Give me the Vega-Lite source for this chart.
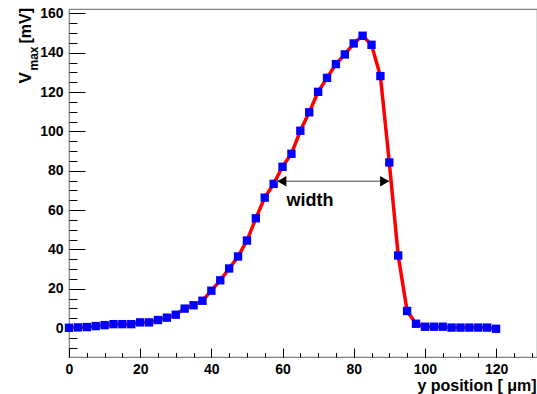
{
  "$schema": "https://vega.github.io/schema/vega-lite/v6.json",
  "width": 468,
  "height": 348,
  "autosize": {"type": "none"},
  "padding": {"left": 69, "top": 9, "right": 0, "bottom": 37},
  "background": "white",
  "config": {
    "view": {"stroke": "#808080", "strokeWidth": 1.2},
    "axis": {
      "labelFont": "Liberation Sans", "labelFontWeight": "bold", "labelFontSize": 14, "labelColor": "black",
      "titleFont": "Liberation Sans", "titleFontWeight": "bold", "titleColor": "black",
      "domain": false, "grid": false, "tickColor": "black", "tickWidth": 1
    }
  },
  "datasets": {
    "pts": [
      {"x": 0, "y": 0.15}, {"x": 2.5, "y": 0.35}, {"x": 5, "y": 0.5}, {"x": 7.5, "y": 1.0},
      {"x": 10, "y": 1.5}, {"x": 12.5, "y": 2.0}, {"x": 15, "y": 2.0}, {"x": 17.5, "y": 2.0},
      {"x": 20, "y": 2.9}, {"x": 22.5, "y": 2.9}, {"x": 25, "y": 4.1}, {"x": 27.5, "y": 5.3},
      {"x": 30, "y": 6.8}, {"x": 32.5, "y": 9.9}, {"x": 35, "y": 11.6}, {"x": 37.5, "y": 13.9},
      {"x": 40, "y": 19.0}, {"x": 42.5, "y": 24.3}, {"x": 45, "y": 30.3}, {"x": 47.5, "y": 36.4},
      {"x": 50, "y": 44.5}, {"x": 52.5, "y": 55.8}, {"x": 55, "y": 66.3}, {"x": 57.5, "y": 73.3},
      {"x": 60, "y": 82.0}, {"x": 62.5, "y": 88.6}, {"x": 65, "y": 100.3}, {"x": 67.5, "y": 109.7},
      {"x": 70, "y": 120.1}, {"x": 72.5, "y": 127.2}, {"x": 75, "y": 134.2}, {"x": 77.5, "y": 139.1},
      {"x": 80, "y": 144.7}, {"x": 82.5, "y": 148.6}, {"x": 85, "y": 144.0}, {"x": 87.5, "y": 128.1},
      {"x": 90, "y": 84.2}, {"x": 92.5, "y": 36.9}, {"x": 95, "y": 8.7}, {"x": 97.5, "y": 2.2},
      {"x": 100, "y": 0.7}, {"x": 102.5, "y": 0.7}, {"x": 105, "y": 0.7}, {"x": 107.5, "y": 0.25},
      {"x": 110, "y": 0.25}, {"x": 112.5, "y": 0.25}, {"x": 115, "y": 0.25}, {"x": 117.5, "y": 0.25},
      {"x": 120, "y": -0.35}
    ],
    "arrow": [{"x": 58.2, "x2": 90.2, "y": 74.6}],
    "heads": [
      {"x": 59.8, "y": 74.6, "shape": "triangle-left"},
      {"x": 88.7, "y": 74.6, "shape": "triangle-right"}
    ],
    "label": [{"x": 67.7, "y": 62.0, "text": "width"}]
  },
  "resolve": {"axis": {"x": "independent", "y": "independent"}},
  "layer": [
    {
      "data": {"name": "pts"},
      "mark": {"type": "line", "color": "#ff0000", "strokeWidth": 3.5, "clip": false},
      "encoding": {
        "x": {
          "field": "x", "type": "quantitative",
          "scale": {"domain": [0, 131.5], "nice": false, "zero": false},
          "axis": {
            "orient": "bottom", "values": [0, 20, 40, 60, 80, 100, 120], "tickSize": -9,
            "labelPadding": 14, "labelFlush": false, "labelOverlap": false,
            "title": "y position [ μm]", "titleFontSize": 16, "titleAlign": "right",
            "titleAnchor": null, "titleX": 467, "titleY": 33, "titleBaseline": "alphabetic"
          }
        },
        "y": {
          "field": "y", "type": "quantitative",
          "scale": {"domain": [-14.7, 162.2], "nice": false, "zero": false},
          "axis": {
            "orient": "left", "values": [0, 20, 40, 60, 80, 100, 120, 140, 160], "tickSize": -16,
            "labelPadding": 22, "labelFlush": false, "labelOverlap": false,
            "title": "V", "titleFontSize": 17, "titleAngle": -90, "titleAlign": "left",
            "titleAnchor": null, "titleX": -39, "titleY": 74, "titleBaseline": "alphabetic"
          }
        }
      }
    },
    {
      "data": {"name": "pts"},
      "mark": {"type": "point", "shape": "square", "filled": true, "size": 70, "color": "#0000ff", "opacity": 1, "clip": false},
      "encoding": {
        "x": {
          "field": "x", "type": "quantitative",
          "axis": {
            "orient": "bottom",
            "values": [5, 10, 15, 25, 30, 35, 45, 50, 55, 65, 70, 75, 85, 90, 95, 105, 110, 115, 125, 130],
            "tickSize": -4.5, "labels": false, "title": null
          }
        },
        "y": {
          "field": "y", "type": "quantitative",
          "axis": {
            "orient": "left",
            "values": [-10, -5, 5, 10, 15, 25, 30, 35, 45, 50, 55, 65, 70, 75, 85, 90, 95, 105, 110, 115, 125, 130, 135, 145, 150, 155],
            "tickSize": -8, "labels": false,
            "title": "max", "titleFontSize": 12, "titleAngle": -90, "titleAlign": "left",
            "titleAnchor": null, "titleX": -32, "titleY": 61, "titleBaseline": "alphabetic"
          }
        }
      }
    },
    {
      "data": {"name": "arrow"},
      "mark": {"type": "rule", "color": "#808080", "strokeWidth": 1.5},
      "encoding": {
        "x": {"field": "x", "type": "quantitative", "axis": null},
        "x2": {"field": "x2"},
        "y": {
          "field": "y", "type": "quantitative",
          "axis": {
            "orient": "left", "ticks": false, "labels": false,
            "title": "[mV]", "titleFontSize": 16, "titleAngle": -90, "titleAlign": "left",
            "titleAnchor": null, "titleX": -39, "titleY": 34, "titleBaseline": "alphabetic"
          }
        }
      }
    },
    {
      "data": {"name": "heads"},
      "mark": {"type": "point", "filled": true, "size": 110, "color": "black", "opacity": 1},
      "encoding": {
        "x": {"field": "x", "type": "quantitative", "axis": null},
        "y": {"field": "y", "type": "quantitative", "axis": null},
        "shape": {"field": "shape", "type": "nominal", "scale": null, "legend": null}
      }
    },
    {
      "data": {"name": "label"},
      "mark": {"type": "text", "font": "Liberation Sans", "fontWeight": "bold", "fontSize": 18, "align": "center", "baseline": "alphabetic", "color": "black"},
      "encoding": {
        "x": {"field": "x", "type": "quantitative", "axis": null},
        "y": {"field": "y", "type": "quantitative", "axis": null},
        "text": {"field": "text"}
      }
    }
  ]
}
